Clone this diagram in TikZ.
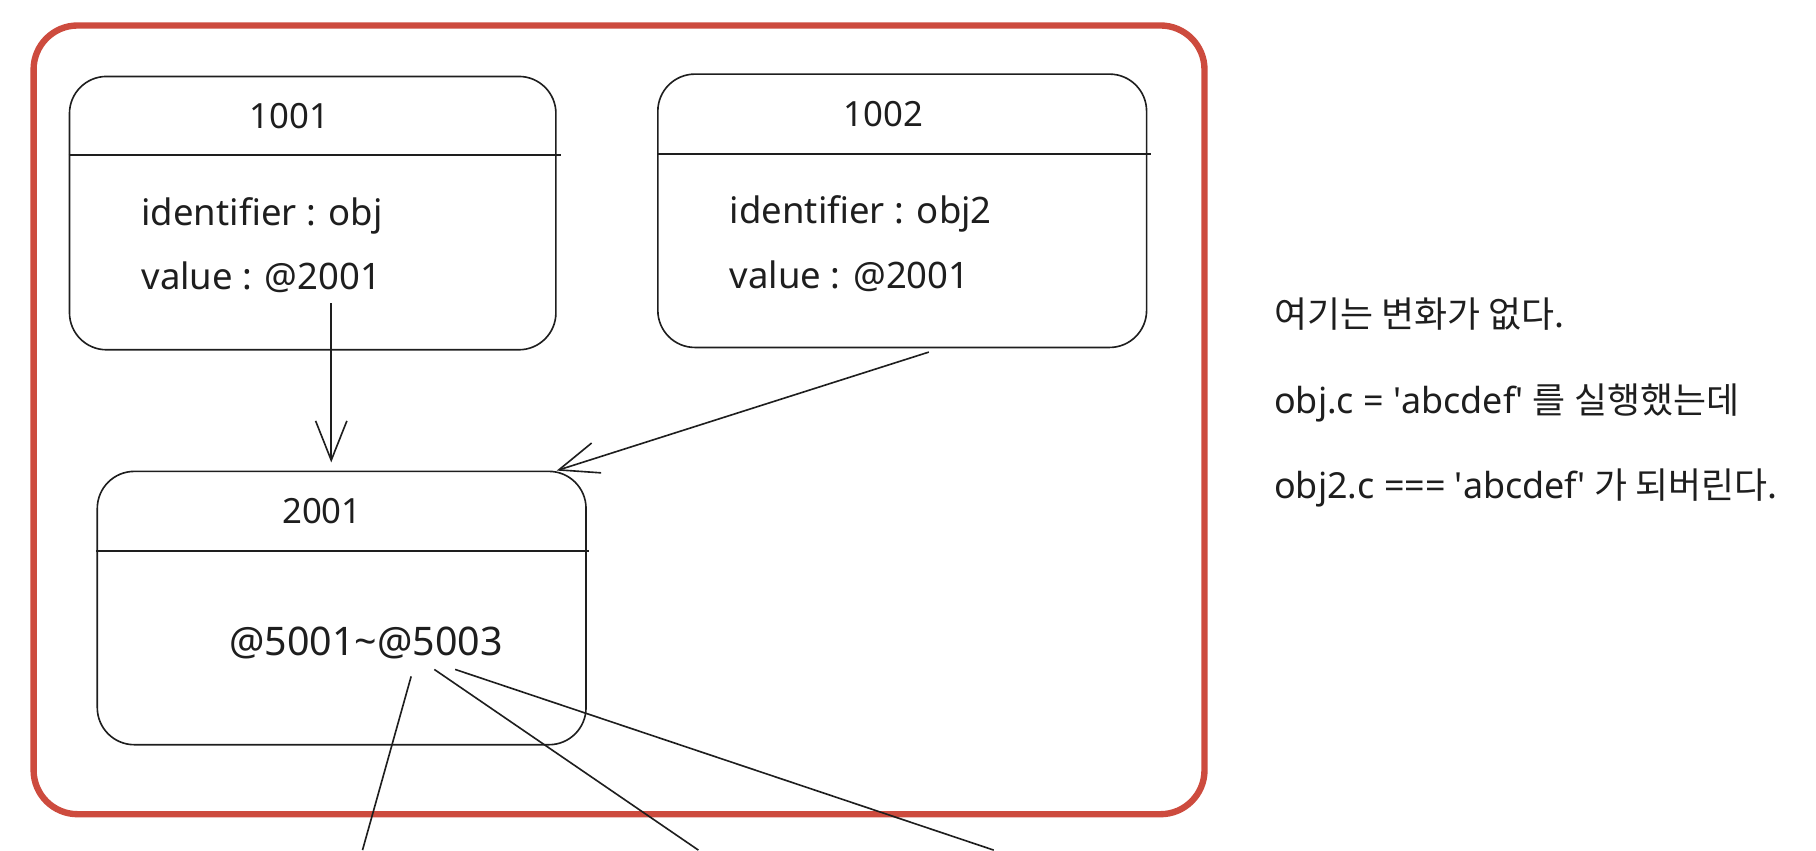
\documentclass[tikz,border=0pt]{standalone}
\usepackage{fontspec}
\setmainfont{Noto Sans}
\newfontfamily\kr{Noto Sans CJK KR}
\usetikzlibrary{arrows.meta}
\definecolor{framered}{RGB}{205,75,62}
\definecolor{ink}{RGB}{30,30,30}
\begin{document}
\begin{tikzpicture}[x=1pt,y=-1pt,
  memcell/.style={draw=ink, line width=1.4pt, rounded corners=32pt, inner sep=0pt},
  divider/.style={draw=ink, line width=1.4pt},
  celltitle/.style={font=\fontsize{30}{36}\selectfont, text=ink, anchor=base, inner sep=0pt},
  field/.style={font=\fontsize{31.5}{36}\selectfont, text=ink, anchor=base west, inner sep=0pt},
  note/.style={font=\fontsize{31}{36}\selectfont, text=ink, anchor=base west, inner sep=0pt},
  link/.style={draw=ink, line width=1.4pt},
  arr/.style={link, -{Straight Barb[length=34pt,width=27pt]}}]
\useasboundingbox (0,0) rectangle (1568,734);
% red frame
\node[draw=framered, line width=5.5pt, rounded corners=38pt, minimum width=1011pt, minimum height=681pt, inner sep=0pt] (frame) at (534.5,362.5) {};
% memory cells
\node[memcell, minimum width=420pt, minimum height=236pt] (b1) at (270,184) {};
\node[memcell, minimum width=422pt, minimum height=236pt] (b2) at (779,182) {};
\node[memcell, minimum width=422pt, minimum height=236pt] (b3) at (295,525) {};
% dividers
\draw[divider] (b1.west |- 0,134) -- ([xshift=4pt]b1.east |- 0,134);
\draw[divider] (b2.west |- 0,133) -- ([xshift=3pt]b2.east |- 0,133);
\draw[divider] (b3.west |- 0,476) -- ([xshift=2pt]b3.east |- 0,476);
% titles
\node[celltitle] (t1) at (250,111) {1001};
\node[celltitle] (t2) at (763,109) {1002};
\node[celltitle] (t3) at (278,452) {2001};
% fields
\node[field] (id1) at (122,195) {identifier : obj};
\node[field] (v1) at (122,250) {value : @2001};
\node[field] (id2) at (630,193) {identifier : obj2};
\node[field] (v2) at (630,249) {value : @2001};
\node[celltitle, font=\fontsize{34}{40}\selectfont] (v3) at (316,566) {@5001\textasciitilde @5003};
% notes
\node[note] (n1) at (1100,283) {\kr 여기는 변화가 없다.};
\node[note] (n2) at (1100,357) {obj.c = \textquotesingle abcdef\textquotesingle\ {\kr 를 실행했는데}};
\node[note] (n3) at (1100,430) {obj2.c === \textquotesingle abcdef\textquotesingle\ {\kr 가 되버린다.}};
% connectors
\coordinate (a1s) at (286,262);
\coordinate (a2s) at (802,304);
\draw[arr] (a1s) -- ([yshift=7pt]a1s |- b3.north);
\draw[arr] (a2s) -- ([xshift=-26pt]b3.north east);
\coordinate (l1s) at (355,584);
\coordinate (l1e) at (313,734);
\coordinate (l2s) at (375,578);
\coordinate (l2e) at (603,734);
\coordinate (l3s) at (393,578);
\coordinate (l3e) at (858,734);
\draw[link] (l1s) -- (l1e);
\draw[link] (l2s) -- (l2e);
\draw[link] (l3s) -- (l3e);
\end{tikzpicture}
\end{document}
